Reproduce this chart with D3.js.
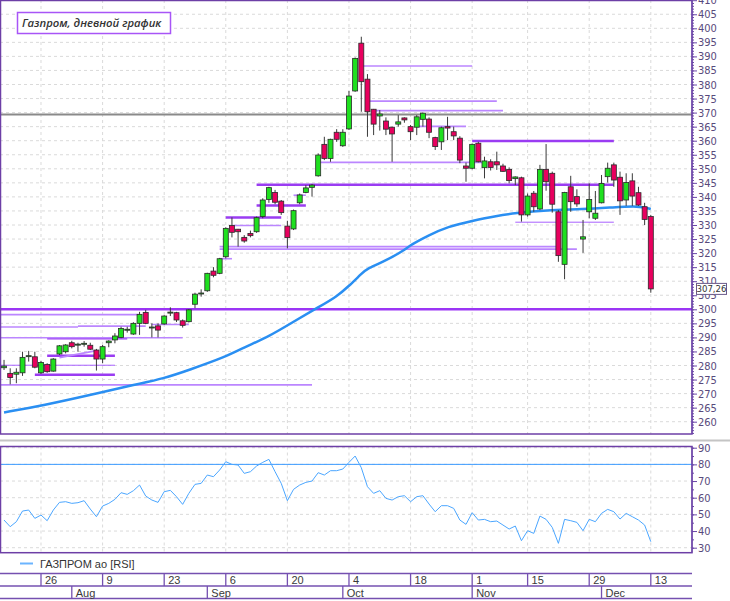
<!DOCTYPE html>
<html lang="ru">

<head>
  <meta charset="UTF-8">
  <title>Газпром, дневной график</title>
  <script src="https://d3js.org/d3.v7.min.js"></script>
  <style>
    body { margin: 0; background: #fff; }
    svg { display: block; }
    .axis text { font: 11px 'Liberation Sans Narrow', 'DejaVu Sans Condensed', sans-serif; fill: #584a7c; }
    .axis path, .axis line { stroke: #6d48a8; }
    .grid line { stroke: #dadada; stroke-dasharray: 3, 3; }
    .date text { font: 11px 'Liberation Sans', Arial, sans-serif; fill: #3a3a3a; }
    .title { font: italic 600 11.3px 'Open Sans', sans-serif; fill: #333; }
  </style>
</head>

<body>
  <svg width="730" height="601"></svg>
  <script>
    // calendar: MOEX trading days, 4 Nov is a holiday
    const firstDay = '2021-07-16';
    const lastDay = '2021-12-13';
    const holidays = ['2021-11-04'];

    const opens = [279.2, 277.2, 276.9, 277.4, 283.2, 283.1, 277.4, 280.4, 278.0, 284.1,
      284.9, 288.1, 287.4, 287.7, 287.2, 285.5, 282.3, 288.1, 289.1, 290.0,
      292.7, 291.2, 295.0, 298.9, 293.5, 294.1, 294.8, 298.8, 298.8, 295.9,
      295.6, 301.8, 305.6, 306.6, 313.6, 312.8, 318.7, 329.8, 328.5, 325.6,
      327.0, 327.6, 333.0, 339.1, 341.6, 338.5, 329.6, 328.6, 337.9, 341.6,
      343.4, 347.5, 358.7, 353.7, 363.0, 358.2, 364.2, 377.7, 394.7, 381.9,
      371.2, 368.8, 367.0, 364.8, 365.9, 368.1, 365.0, 364.8, 367.6, 367.7,
      361.1, 359.6, 365.0, 363.2, 360.9, 351.0, 350.2, 359.1, 350.4, 352.5,
      352.5, 351.0, 349.8, 346.5, 346.8, 333.6, 341.3, 335.7, 349.8, 348.4,
      334.7, 316.0, 343.6, 340.1, 325.0, 334.7, 332.4, 337.9, 347.2, 351.4,
      347.0, 338.9, 345.7, 341.5, 336.5, 333.0];
    const highs = [282.0, 279.0, 279.0, 284.9, 285.2, 284.9, 281.6, 280.8, 282.6, 287.3,
      287.6, 288.8, 288.1, 288.7, 288.1, 285.9, 287.3, 289.0, 291.5, 293.8,
      293.8, 295.4, 299.1, 299.8, 295.0, 295.0, 297.9, 300.7, 299.1, 296.4,
      300.1, 305.9, 307.1, 313.0, 315.0, 318.3, 329.2, 332.7, 328.6, 326.4,
      328.0, 333.0, 339.5, 343.6, 342.5, 338.9, 331.5, 335.5, 341.2, 344.2,
      344.6, 355.5, 361.4, 360.7, 364.1, 364.1, 377.7, 389.6, 397.0, 383.7,
      371.3, 370.9, 368.3, 365.0, 369.1, 368.3, 365.6, 369.1, 370.0, 368.3,
      361.4, 365.0, 368.5, 365.0, 361.6, 352.2, 359.0, 359.6, 354.3, 353.4,
      356.1, 351.8, 350.5, 347.3, 347.2, 341.2, 342.1, 351.4, 358.8, 349.0,
      335.3, 341.8, 347.5, 342.7, 331.8, 344.8, 342.1, 347.8, 352.2, 352.2,
      349.0, 348.4, 348.4, 343.6, 337.9, 333.6];
    const lows = [278.4, 273.3, 273.7, 276.3, 281.4, 279.0, 277.0, 277.4, 277.8, 283.7,
      284.3, 286.1, 284.9, 286.7, 285.5, 278.2, 280.8, 286.5, 287.9, 289.7,
      291.7, 290.9, 290.9, 294.7, 290.0, 290.0, 294.5, 297.6, 295.5, 293.5,
      295.3, 300.4, 304.5, 306.2, 311.4, 312.5, 318.1, 325.6, 322.3, 323.7,
      325.6, 327.2, 332.4, 337.9, 337.4, 333.6, 321.7, 328.2, 337.4, 341.3,
      340.1, 347.2, 353.1, 352.5, 359.6, 357.8, 363.8, 377.4, 370.3, 361.4,
      362.0, 363.6, 362.0, 352.5, 365.0, 366.4, 360.2, 362.0, 365.0, 360.9,
      356.7, 356.7, 360.2, 360.2, 352.0, 345.4, 349.8, 352.3, 346.6, 349.4,
      349.6, 348.9, 344.8, 344.2, 331.2, 333.0, 334.7, 335.3, 342.2, 334.4,
      316.9, 310.7, 334.7, 336.5, 320.1, 332.4, 331.8, 337.7, 345.1, 343.6,
      333.6, 336.8, 336.8, 336.8, 330.0, 305.9];
    const closes = [279.8, 275.7, 277.6, 282.9, 283.5, 279.4, 281.1, 277.8, 282.3, 287.0,
      287.3, 286.7, 287.6, 287.9, 285.8, 282.3, 286.7, 288.7, 290.5, 293.2,
      292.9, 295.0, 298.2, 295.0, 293.7, 292.6, 297.6, 299.0, 296.2, 294.3,
      299.8, 305.4, 305.8, 312.8, 312.1, 318.0, 328.8, 327.4, 327.6, 324.3,
      326.2, 332.6, 338.9, 343.3, 338.1, 334.4, 325.5, 335.1, 340.7, 343.2,
      344.2, 354.9, 353.7, 360.5, 360.5, 363.0, 375.9, 389.3, 381.0, 370.3,
      365.9, 369.5, 364.1, 362.4, 366.7, 367.4, 363.2, 368.5, 369.8, 363.0,
      357.9, 364.6, 364.5, 361.7, 353.1, 350.2, 358.7, 352.5, 352.8, 350.5,
      351.4, 349.1, 345.8, 347.1, 333.6, 340.3, 336.5, 349.8, 345.4, 337.4,
      319.1, 341.6, 338.3, 337.5, 325.8, 339.1, 334.2, 344.8, 350.2, 346.0,
      338.6, 345.1, 340.3, 337.1, 332.0, 307.26];

    const rsi = [46.6, 42.6, 45.6, 52.0, 52.6, 47.6, 49.6, 46.2, 52.6, 57.2,
      57.6, 56.6, 57.0, 58.2, 53.2, 48.6, 55.0, 56.6, 59.0, 63.0,
      62.0, 64.2, 67.6, 61.0, 58.6, 57.2, 63.6, 64.4, 60.6, 56.0,
      62.6, 68.0, 68.6, 73.6, 72.6, 76.6, 81.6, 80.0, 79.6, 74.6,
      75.6, 79.0, 81.2, 83.0, 75.6, 68.6, 58.2, 65.0, 67.6, 69.2,
      70.0, 75.0, 73.6, 76.2, 76.2, 77.2, 81.2, 85.0, 78.0, 66.6,
      62.6, 64.2, 59.6, 58.6, 60.6, 61.2, 57.6, 60.6, 61.2, 56.2,
      51.6, 55.2, 55.2, 53.6, 46.6, 44.0, 51.0, 46.6, 47.0, 45.6,
      46.0, 43.6, 41.2, 43.0, 34.2, 40.2, 38.6, 49.0, 47.0, 42.2,
      32.6, 47.0, 46.2, 45.2, 40.2, 47.0, 45.6, 50.6, 53.0, 51.6,
      47.2, 50.6, 48.6, 46.6, 43.6, 33.6];

    // moving average at these sessions
    const maDates = ['2021-07-16', '2021-07-26', '2021-08-09', '2021-08-16', '2021-08-23',
      '2021-08-27', '2021-09-06', '2021-09-09', '2021-09-15', '2021-09-21', '2021-09-27',
      '2021-09-30', '2021-10-04', '2021-10-06', '2021-10-07', '2021-10-12', '2021-10-15',
      '2021-10-18', '2021-10-21', '2021-10-26', '2021-11-01', '2021-11-08', '2021-11-11',
      '2021-11-18', '2021-11-26', '2021-12-03', '2021-12-09', '2021-12-13'];
    const maValues = [263.3, 265.6, 270.5, 273.1, 275.4, 278.4, 283.1, 286.5, 290.3, 295.6,
      300.7, 304.5, 308.3, 312.6, 314.6, 317.3, 321.1, 322.9, 326.4, 329.4, 331.5, 333.3,
      334.2, 335.3, 335.6, 336.3, 336.8, 335.7];

    // drawn levels: from, to (null = pane edge), price, kind
    const levels = [
      [null, null, 369.3, 'gray'],
      [null, null, 300.0, 'main'],
      [null, '2021-09-24', 273.1, 'light'],
      ['2021-07-23', '2021-08-11', 276.7, 'bold'],
      [null, '2021-08-11', 280.1, 'thin'],
      ['2021-07-27', '2021-08-11', 283.5, 'bold'],
      ['2021-07-27', '2021-08-13', 289.7, 'bold'],
      [null, '2021-08-26', 289.9, 'light'],
      [null, '2021-08-03', 293.7, 'light'],
      ['2021-08-03', '2021-08-18', 294.0, 'light'],
      ['2021-08-19', '2021-08-27', 294.6, 'light'],
      [null, '2021-08-17', 298.1, 'light'],
      ['2021-09-03', '2021-09-07', 318.0, 'light'],
      ['2021-09-03', '2021-11-22', 322.3, 'light'],
      ['2021-09-03', '2021-11-25', 321.4, 'light'],
      ['2021-09-07', '2021-09-17', 329.8, 'light'],
      ['2021-09-06', '2021-09-17', 332.7, 'bold'],
      ['2021-09-13', '2021-09-23', 336.9, 'bold'],
      ['2021-09-21', '2021-09-23', 340.6, 'light'],
      ['2021-09-13', '2021-12-03', 344.3, 'bold'],
      ['2021-09-27', '2021-11-03', 352.3, 'light'],
      ['2021-10-06', '2021-11-01', 386.6, 'light'],
      ['2021-10-07', '2021-11-08', 374.1, 'light'],
      ['2021-10-08', '2021-11-09', 370.7, 'light'],
      ['2021-10-19', '2021-10-29', 365.1, 'light'],
      ['2021-11-01', '2021-12-03', 359.9, 'bold'],
      ['2021-11-11', '2021-12-03', 331.0, 'thin']
    ];
    const trend = [['2021-07-29', 282.8], ['2021-08-06', 285.3]];

    const tickDates = ['2021-07-26', '2021-08-09', '2021-08-23', '2021-09-06', '2021-09-20',
      '2021-10-04', '2021-10-18', '2021-11-01', '2021-11-15', '2021-11-29', '2021-12-13'];
    const priceTicks = d3.range(260, 411, 5);
    const rsiTicks = d3.range(30, 91, 10);
    const rsiLevel = 80;
    const lastLabel = '307,26';

    const parse = d3.timeParse('%Y-%m-%d');
    const fmt = d3.timeFormat('%Y-%m-%d');
    const dates = d3.timeDay.range(parse(firstDay), d3.timeDay.offset(parse(lastDay), 1))
      .filter(d => d.getDay() % 6 !== 0 && !holidays.includes(fmt(d)));
    const index = new Map(dates.map((d, i) => [fmt(d), i]));

    const bars = dates.map((d, i) => ({
      date: d, o: opens[i], h: highs[i], l: lows[i], c: closes[i], rsi: rsi[i]
    }));

    const svg = d3.select('svg');
    const right = 692;
    const main = { top: 0.5, bottom: 434 };
    const pane = { top: 446.5, bottom: 552.7 };

    const x = d3.scaleLinear().domain([0, dates.length - 1]).range([4.04, 650.8]);
    const xd = s => x(index.get(s));
    const y = d3.scaleLinear().domain([260, 410]).range([421.7, 0.2]);
    const yr = d3.scaleLinear().domain([30, 90]).range([547.7, 447.7]);

    const defs = svg.append('defs');
    defs.append('clipPath').attr('id', 'clipMain')
      .append('rect').attr('x', 1).attr('y', 1).attr('width', right - 1).attr('height', main.bottom - 1);
    defs.append('clipPath').attr('id', 'clipRsi')
      .append('rect').attr('x', 1).attr('y', pane.top).attr('width', right - 1).attr('height', pane.bottom - pane.top);

    // grids
    const gridMain = svg.append('g').attr('class', 'grid').attr('clip-path', 'url(#clipMain)');
    gridMain.selectAll('.h').data(priceTicks).enter().append('line')
      .attr('x1', 0).attr('x2', right).attr('y1', d => y(d)).attr('y2', d => y(d));
    gridMain.selectAll('.v').data(tickDates).enter().append('line')
      .attr('x1', d => xd(d)).attr('x2', d => xd(d)).attr('y1', 0).attr('y2', main.bottom);

    const gridRsi = svg.append('g').attr('class', 'grid').attr('clip-path', 'url(#clipRsi)');
    gridRsi.selectAll('.h').data(rsiTicks).enter().append('line')
      .attr('x1', 0).attr('x2', right).attr('y1', d => yr(d)).attr('y2', d => yr(d));
    gridRsi.selectAll('.v').data(tickDates).enter().append('line')
      .attr('x1', d => xd(d)).attr('x2', d => xd(d)).attr('y1', pane.top).attr('y2', pane.bottom);

    // levels
    const levelStyle = {
      gray: ['#8a8a8a', 2],
      main: ['#9b35f5', 2.5],
      bold: ['#9a3cf2', 2.5],
      light: ['#bb86ff', 1.6],
      thin: ['#a860ff', 1]
    };
    const plot = svg.append('g').attr('clip-path', 'url(#clipMain)');
    plot.selectAll('.level').data(levels).enter().append('line')
      .attr('x1', d => d[0] ? xd(d[0]) : 0)
      .attr('x2', d => d[1] ? xd(d[1]) : right)
      .attr('y1', d => y(d[2])).attr('y2', d => y(d[2]))
      .attr('stroke', d => levelStyle[d[3]][0])
      .attr('stroke-width', d => levelStyle[d[3]][1]);
    plot.append('line')
      .attr('x1', xd(trend[0][0])).attr('y1', y(trend[0][1]))
      .attr('x2', xd(trend[1][0])).attr('y2', y(trend[1][1]))
      .attr('stroke', '#bb86ff').attr('stroke-width', 1.6);

    // moving average
    const ma = maDates.map((d, i) => [index.get(d), maValues[i]]);
    plot.append('path')
      .datum(ma)
      .attr('d', d3.line().x(d => x(d[0])).y(d => y(d[1])).curve(d3.curveBasis))
      .attr('fill', 'none').attr('stroke', '#2a8ff2').attr('stroke-width', 2.5);

    // candles
    const candle = plot.selectAll('.candle').data(bars).enter().append('g');
    candle.append('line')
      .attr('x1', (d, i) => x(i)).attr('x2', (d, i) => x(i))
      .attr('y1', d => y(d.h)).attr('y2', d => y(d.l))
      .attr('stroke', '#3a3a3a').attr('stroke-width', 1);
    candle.append('rect')
      .attr('x', (d, i) => x(i) - 2.5).attr('width', 5)
      .attr('y', d => y(Math.max(d.o, d.c)))
      .attr('height', d => Math.max(1, Math.abs(y(d.o) - y(d.c))))
      .attr('fill', d => d.c >= d.o ? '#1fe01f' : '#e8005e')
      .attr('stroke', '#2a2a2a').attr('stroke-width', 0.8);

    // rsi pane
    const rsiG = svg.append('g').attr('clip-path', 'url(#clipRsi)');
    rsiG.append('line')
      .attr('x1', 0).attr('x2', right).attr('y1', yr(rsiLevel)).attr('y2', yr(rsiLevel))
      .attr('stroke', '#3a9bff').attr('stroke-width', 1);
    rsiG.append('path')
      .datum(bars)
      .attr('d', d3.line().x((d, i) => x(i)).y(d => yr(d.rsi)))
      .attr('fill', 'none').attr('stroke', '#4ba6ff').attr('stroke-width', 1);

    // frames
    svg.append('rect').attr('x', 0.5).attr('y', main.top).attr('width', right - 0.5)
      .attr('height', main.bottom - main.top).attr('fill', 'none').attr('stroke', '#6d3fa6').attr('stroke-width', 1.5);
    svg.append('rect').attr('x', 0.5).attr('y', pane.top).attr('width', right - 0.5)
      .attr('height', pane.bottom - pane.top).attr('fill', 'none').attr('stroke', '#6d3fa6').attr('stroke-width', 1.5);
    svg.append('line').attr('x1', 0).attr('x2', 730).attr('y1', 440.5).attr('y2', 440.5)
      .attr('stroke', '#c4c4c4').attr('stroke-width', 2);

    // price axis
    svg.append('g').attr('class', 'axis').attr('transform', `translate(${right},0)`)
      .call(d3.axisRight(y).tickValues(d3.range(256, 410, 1)).tickSize(2).tickFormat(''))
      .call(g => g.select('.domain').remove());
    svg.append('g').attr('class', 'axis').attr('transform', `translate(${right},0)`)
      .call(d3.axisRight(y).tickValues(priceTicks).tickSize(5).tickPadding(1).tickFormat(d3.format('d')))
      .call(g => g.select('.domain').attr('d', `M0,0V${main.bottom}`));

    svg.append('g').attr('class', 'axis').attr('transform', `translate(${right},0)`)
      .call(d3.axisRight(yr).tickValues(d3.range(30, 91, 5)).tickSize(2).tickFormat(''))
      .call(g => g.select('.domain').remove());
    svg.append('g').attr('class', 'axis').attr('transform', `translate(${right},0)`)
      .call(d3.axisRight(yr).tickValues(rsiTicks).tickSize(5).tickPadding(1).tickFormat(d3.format('d')))
      .call(g => g.select('.domain').attr('d', `M0,${pane.top}V${pane.bottom}`));

    // last price label
    const last = svg.append('g').attr('transform', `translate(696.5,${y(closes[closes.length - 1])})`);
    last.append('rect').attr('x', 0).attr('y', -5.5).attr('width', 30).attr('height', 11)
      .attr('fill', '#fff').attr('stroke', '#6b5a8a');
    last.append('text').attr('x', 15).attr('y', 3.5).attr('text-anchor', 'middle').text(lastLabel)
      .attr('style', "font: 9.5px 'Liberation Sans Narrow', 'DejaVu Sans Condensed', sans-serif; fill: #333");

    // legend
    svg.append('line').attr('x1', 20).attr('x2', 33).attr('y1', 563.5).attr('y2', 563.5)
      .attr('stroke', '#6bb4ff').attr('stroke-width', 2);
    svg.append('text').attr('x', 40).attr('y', 567.5).text('ГАЗПРОМ ао [RSI]')
      .attr('style', "font: 11px 'Liberation Sans', Arial, sans-serif; fill: #333");

    // date axis
    const dateG = svg.append('g').attr('class', 'date');
    [573.5, 586, 598.5].forEach(v => dateG.append('line')
      .attr('x1', 0).attr('x2', right).attr('y1', v).attr('y2', v)
      .attr('stroke', '#7550b0').attr('stroke-width', 1.3));
    const dayTicks = dateG.selectAll('.day').data(tickDates).enter().append('g');
    dayTicks.append('line')
      .attr('x1', d => xd(d)).attr('x2', d => xd(d)).attr('y1', 573.5).attr('y2', 586)
      .attr('stroke', '#7550b0').attr('stroke-width', 1.3);
    dayTicks.append('text')
      .attr('x', d => xd(d) + 4).attr('y', 584)
      .text(d => d3.timeFormat('%-d')(parse(d)));

    const monthStarts = dates.filter((d, i) => i > 0 && d.getMonth() !== dates[i - 1].getMonth());
    const months = dateG.selectAll('.month').data(monthStarts).enter().append('g');
    months.append('line')
      .attr('x1', d => x(index.get(fmt(d)))).attr('x2', d => x(index.get(fmt(d))))
      .attr('y1', 586).attr('y2', 598.5)
      .attr('stroke', '#7550b0').attr('stroke-width', 1.3);
    months.append('text')
      .attr('x', d => x(index.get(fmt(d))) + 4).attr('y', 596.5)
      .text(d => d3.timeFormat('%b')(d));

    // title
    svg.append('rect').attr('x', 17.5).attr('y', 12.5).attr('width', 153).attr('height', 21)
      .attr('fill', '#fff').attr('stroke', '#a855f7').attr('stroke-width', 1.5);
    svg.append('text').attr('class', 'title').attr('x', 22).attr('y', 27)
      .text('Газпром, дневной график');
  </script>
</body>

</html>
